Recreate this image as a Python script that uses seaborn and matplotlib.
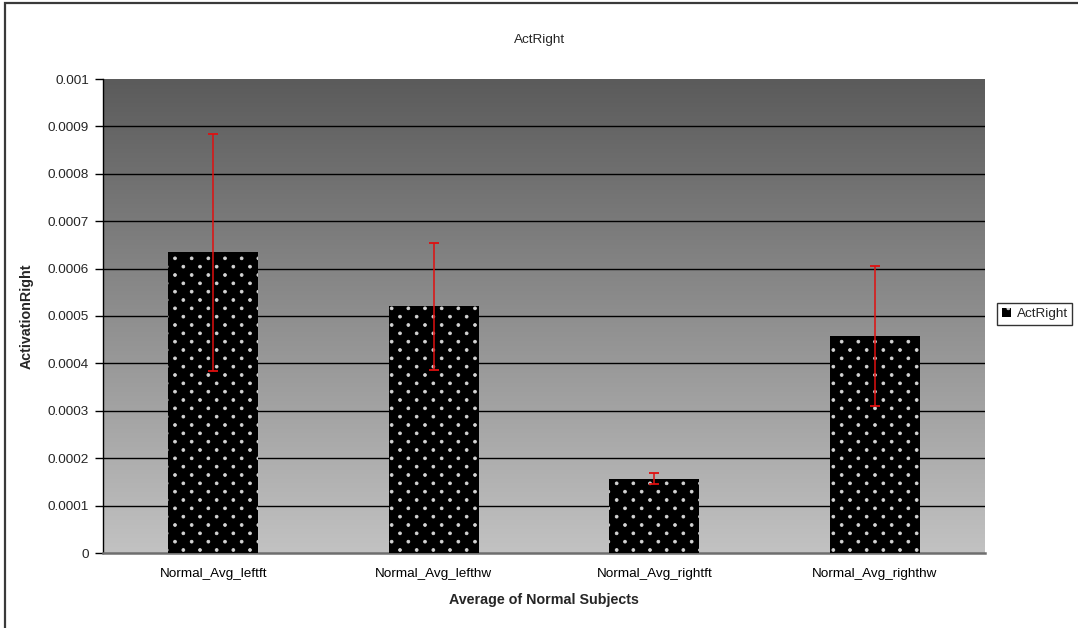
import numpy as np
import matplotlib
matplotlib.use("Agg")
import matplotlib.pyplot as plt
import matplotlib.hatch as mhatch
from matplotlib.patches import Patch, Rectangle
import seaborn as sns

# Mean right-side activation per condition, with error half-widths
conditions = ["Normal_Avg_leftft", "Normal_Avg_lefthw", "Normal_Avg_rightft", "Normal_Avg_righthw"]
act_right = [0.000634, 0.000521, 0.000157, 0.000458]
act_err = [0.000250, 0.000134, 0.000011, 0.000148]

y_ticks = [0, 0.0001, 0.0002, 0.0003, 0.0004, 0.0005, 0.0006, 0.0007, 0.0008, 0.0009, 0.001]
y_tick_labels = ["0", "0.0001", "0.0002", "0.0003", "0.0004", "0.0005",
                 "0.0006", "0.0007", "0.0008", "0.0009", "0.001"]


class StaggeredDots(mhatch.SmallFilledCircles):
    """Small filled dots on a staggered lattice with half-height row spacing."""
    size = 0.085

    def __init__(self, hatch, density):
        super().__init__(hatch, density)
        n = self.num_rows
        self.num_shapes = 0 if n == 0 else (n + 1) * (n + 1) + n * n
        self.num_vertices = self.num_shapes * len(self.shape_vertices)

    def set_vertices_and_codes(self, vertices, codes):
        n = self.num_rows
        if n == 0:
            return
        step = 1.0 / n
        shape = self.shape_vertices * step * self.size
        vparts, cparts = [], []
        for row in range(2 * n + 1):
            if row % 2 == 0:
                cols = np.linspace(0, 1, n + 1)
            else:
                cols = np.linspace(step / 2, 1 - step / 2, n)
            for c in cols:
                vparts.append(shape + [c, row * step / 2])
                cparts.append(self.shape_codes)
        np.concatenate(vparts, out=vertices)
        np.concatenate(cparts, out=codes)


mhatch._hatch_types[mhatch._hatch_types.index(mhatch.SmallFilledCircles)] = StaggeredDots

sns.set_theme(style="white")
plt.rcParams["font.family"] = ["Liberation Sans", "DejaVu Sans"]
plt.rcParams["hatch.linewidth"] = 0.6

fig = plt.figure(figsize=(10.78, 6.28), dpi=100)
ax = fig.add_axes([103 / 1078, 75 / 628, 882 / 1078, 474 / 628])

# vertical grey gradient for the plotting area
grad = np.linspace(0, 1, 256).reshape(-1, 1)
cmap = matplotlib.colors.LinearSegmentedColormap.from_list("bg", ["#c2c2c2", "#5b5b5b"])
ax.imshow(grad, cmap=cmap, origin="lower", aspect="auto",
          extent=(-0.5, len(conditions) - 0.5, 0, 0.001), zorder=0)

sns.barplot(x=conditions, y=act_right, color="black", width=0.41,
            errorbar=None, ax=ax, zorder=3, saturation=1)
for p in ax.patches:
    p.set_facecolor("black")
    p.set_edgecolor("#d4d4d4")   # sets the dot colour of the hatch
    p.set_linewidth(0)
    p.set_hatch(".")

ax.errorbar(np.arange(len(conditions)), act_right, yerr=act_err, fmt="none",
            ecolor="#e01010", elinewidth=1.1, capsize=3.6, capthick=1.3, zorder=5)

ax.set_xlim(-0.5, len(conditions) - 0.5)
ax.set_ylim(0, 0.001)
ax.set_yticks(y_ticks)
ax.set_yticklabels(y_tick_labels)
for y in y_ticks[1:-1]:
    ax.axhline(y, color="black", lw=1.0, zorder=1)

# x ticks at category boundaries, labels centred under bars
ax.set_xticks(np.arange(len(conditions)))
ax.set_xticklabels(conditions)
ax.tick_params(axis="x", length=0, pad=11, labelsize=9.7, colors="black")
ax.set_xticks(np.arange(len(conditions) + 1) - 0.5, minor=True)
ax.tick_params(axis="x", which="minor", length=5, width=1, color="#404040", direction="out")
ax.tick_params(axis="y", length=6, width=1, color="black", direction="out",
               labelsize=9.7, pad=4, left=True)

for s in ["top", "right"]:
    ax.spines[s].set_visible(False)
ax.spines["left"].set_color("black")
ax.spines["left"].set_linewidth(1)
ax.spines["bottom"].set_color("#6e6e6e")
ax.spines["bottom"].set_linewidth(1.8)

ax.set_xlabel("Average of Normal Subjects", fontsize=10.3, fontweight="bold", labelpad=9)
ax.set_ylabel("ActivationRight", fontsize=10.3, fontweight="bold", labelpad=10)
fig.text(540 / 1078, 1 - 40 / 628, "ActRight", ha="center", va="center", fontsize=9.7)

handle = Patch(facecolor="black", edgecolor="#d4d4d4", linewidth=0, hatch=".")
leg = fig.legend([handle], ["ActRight"], loc="center left",
                 bbox_to_anchor=(997 / 1078, 1 - 314 / 628), frameon=True,
                 fancybox=False, edgecolor="black", fontsize=9.7,
                 handlelength=0.7, handleheight=0.7, handletextpad=0.4,
                 borderpad=0.35, borderaxespad=0)
leg.get_frame().set_linewidth(1.0)

# outer chart border
fig.patches.append(Rectangle((5 / 1078, -0.1), 1.2, 1.1 - 3 / 628,
                             transform=fig.transFigure, fill=False,
                             edgecolor="#3a3a3a", lw=1.6))

fig.savefig("out.png", dpi=100, facecolor="white")
